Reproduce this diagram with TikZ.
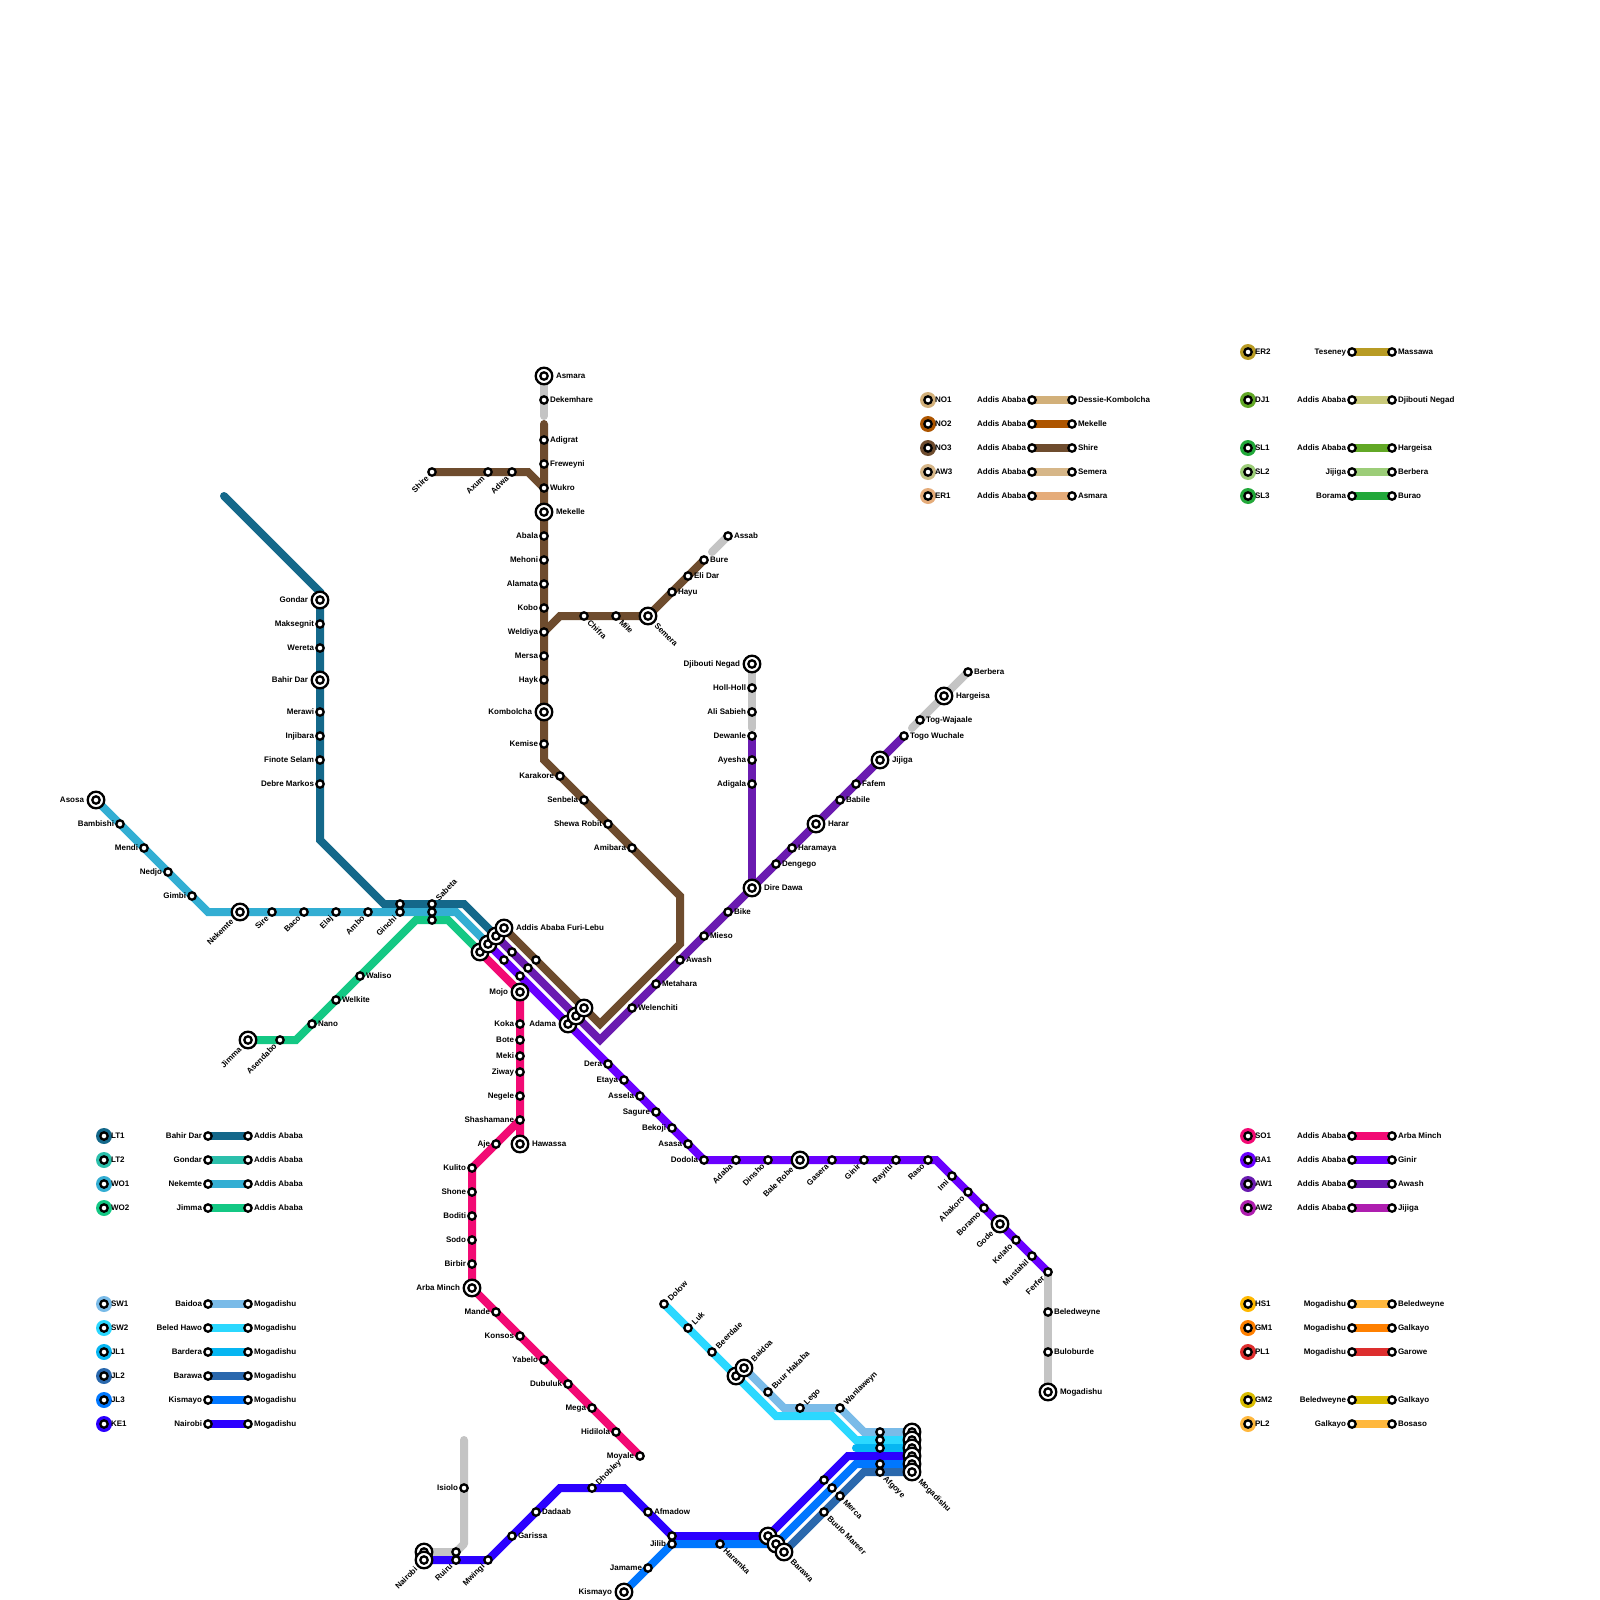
\documentclass[tikz,border=0pt]{standalone}
\usepackage{fontspec}
\setmainfont{Liberation Sans}
\pgfdeclarelayer{st}
\pgfsetlayers{main,st}
\definecolor{cLTa}{HTML}{14688A}\definecolor{cLTb}{HTML}{2BBFAB}\definecolor{cWOa}{HTML}{33AED3}\definecolor{cWOb}{HTML}{14C884}
\definecolor{cSWa}{HTML}{7ABBE8}\definecolor{cSWb}{HTML}{2BD8FF}\definecolor{cJLa}{HTML}{06B6F2}\definecolor{cJLb}{HTML}{2A68AD}
\definecolor{cJLc}{HTML}{0077FF}\definecolor{cKE}{HTML}{2B00FF}\definecolor{cNOa}{HTML}{D2B07A}\definecolor{cNOb}{HTML}{AD5500}
\definecolor{cNOc}{HTML}{6E4C2E}\definecolor{cAWc}{HTML}{D6B688}\definecolor{cERa}{HTML}{E5AC7A}\definecolor{cERb}{HTML}{B89B24}
\definecolor{cDJ}{HTML}{C9C97A}\definecolor{cGra}{HTML}{62A826}\definecolor{cGrb}{HTML}{22A83A}\definecolor{cSLb}{HTML}{9CCD78}
\definecolor{cSO}{HTML}{F20A74}\definecolor{cBA}{HTML}{6A00FF}\definecolor{cAWa}{HTML}{6A1BB0}\definecolor{cAWb}{HTML}{AE1EAF}
\definecolor{cHSd}{HTML}{FFB800}\definecolor{cHS}{HTML}{FFB83E}\definecolor{cGMa}{HTML}{FF8000}\definecolor{cPL}{HTML}{DD2E2E}
\definecolor{cGMb}{HTML}{D9BC00}\definecolor{cGrey}{HTML}{C4C4C4}
\tikzset{
  stn/.style={circle,draw=black,fill=white,line width=2.3pt,minimum size=7.4pt,inner sep=0pt,outer sep=0pt},
  bigo/.style={circle,draw=black,fill=white,line width=2.3pt,minimum size=16.6pt,inner sep=0pt,outer sep=0pt},
  disc/.style={circle,minimum size=16pt,inner sep=0pt,outer sep=0pt},
  lab/.style={font=\bfseries\fontsize{8}{9}\selectfont,inner sep=0pt,outer sep=0pt,text height=6pt,text depth=0pt,text=black},
  lr/.style={lab,anchor=west,xshift=6pt,yshift=0.7pt},
  ll/.style={lab,anchor=east,xshift=-6pt,yshift=0.7pt},
  lc/.style={lab,anchor=west,xshift=7pt,yshift=0.7pt},
  lur/.style={lab,anchor=west,rotate=45,xshift=7pt},
  ldr/.style={lab,anchor=west,rotate=-45,xshift=7pt},
  ldl/.style={lab,anchor=east,rotate=45,xshift=-7pt},
  blr/.style={lab,anchor=west,xshift=12pt,yshift=0.7pt},
  bll/.style={lab,anchor=east,xshift=-12pt,yshift=0.7pt},
  blur/.style={lab,anchor=west,rotate=45,xshift=11.5pt},
  bldr/.style={lab,anchor=west,rotate=-45,xshift=11.5pt},
  bldl/.style={lab,anchor=east,rotate=45,xshift=-11.5pt},
  rt/.style={line width=8pt,line cap=round,line join=miter,miter limit=4},
  lg/.style={line width=8pt,line cap=butt}
}
\newcommand\St[5]{\node[stn] (#1) at (#2,#3) {};\node[#4] (#1t) at (#1.center) {#5};}
\newcommand\Su[3]{\node[stn] (#1) at (#2,#3) {};}
\newcommand\Bg[5]{\node[bigo] (#1o) at (#2,#3) {};\node[stn] (#1) at (#2,#3) {};\node[#4] (#1t) at (#1.center) {#5};}
\newcommand\Bu[3]{\node[bigo] (#1o) at (#2,#3) {};\node[stn] (#1) at (#2,#3) {};}
\newcommand\Leg[9]{%
  \node[disc,fill=#2] (#1d) at (#5,#7) {};
  \begin{pgfonlayer}{st}
  \node[stn] (#1c) at (#5,#7) {};
  \node[stn] (#1l) at (#6,#7) {};
  \node[stn] (#1r) at ([xshift=40pt]#1l.center) {};
  \node[lc] (#1k) at (#1c.center) {#4};
  \node[ll] (#1a) at (#1l.center) {#8};
  \node[lr] (#1b) at (#1r.center) {#9};
  \end{pgfonlayer}
  \draw[lg,#3] (#1l.center) -- (#1r.center);
}
\begin{document}
\begin{tikzpicture}[x=1pt,y=-1pt]
\useasboundingbox (0,0) rectangle (1600,1600);
\fill[white] (0,0) rectangle (1600,1600);
% bend points
\coordinate (ltS) at (224,496);
\coordinate (ltT) at (320,592);
\coordinate (ltA) at (320,840);
\coordinate (ltB) at (384,904);
\coordinate (ltC) at (464,904);
\coordinate (woA) at (208,912);
\coordinate (woB) at (456,912);
\coordinate (wtA) at (296,1040);
\coordinate (wtB) at (416,920);
\coordinate (wtC) at (448,920);
\coordinate (noTop) at (544,424);
\coordinate (noA) at (544,760);
\coordinate (noB) at (680,896);
\coordinate (noC) at (680,944);
\coordinate (noD) at (600,1024);
\coordinate (noE) at (528,472);
\coordinate (noF) at (560,616);
\coordinate (awA) at (600,1040);
\coordinate (baA) at (936,1160);
\coordinate (soA) at (472,1168);
\coordinate (keA) at (848,1456);
\coordinate (keB) at (624,1488);
\coordinate (keC) at (560,1488);
\coordinate (keD) at (488,1560);
\coordinate (swA) at (784,1408);
\coordinate (swB) at (864,1432);
\coordinate (scA) at (776,1416);
\coordinate (scB) at (832,1416);
\coordinate (scC) at (856,1440);
\coordinate (jlS) at (856,1448);
\coordinate (jcA) at (856,1464);
\coordinate (jbA) at (864,1472);
\coordinate (grA) at (464,1440);
\coordinate (grB) at (464,1544);
\coordinate (grC) at (456,1552);
\coordinate (grD) at (712,552);
\coordinate (grE) at (912,728);
\coordinate (grF) at (544,416);
\coordinate (grG) at (752,728);
\begin{pgfonlayer}{st}
% LT1
\Bg{gondar}{320}{600}{bll}{Gondar}
\St{maksegnit}{320}{624}{ll}{Maksegnit}
\St{wereta}{320}{648}{ll}{Wereta}
\Bg{bahirdar}{320}{680}{bll}{Bahir Dar}
\St{merawi}{320}{712}{ll}{Merawi}
\St{injibara}{320}{736}{ll}{Injibara}
\St{finote}{320}{760}{ll}{Finote Selam}
\St{debre}{320}{784}{ll}{Debre Markos}
\Su{ginchiA}{400}{904}
\Su{sabetaB}{432}{912}
\St{sabeta}{432}{904}{lur}{Sabeta}
\Su{sabetaC}{432}{920}
% WO1
\Bg{asosa}{96}{800}{bll}{Asosa}
\St{bambishi}{120}{824}{ll}{Bambishi}
\St{mendi}{144}{848}{ll}{Mendi}
\St{nedjo}{168}{872}{ll}{Nedjo}
\St{gimbi}{192}{896}{ll}{Gimbi}
\Bg{nekemte}{240}{912}{bldl}{Nekemte}
\St{sire}{272}{912}{ldl}{Sire}
\St{baco}{304}{912}{ldl}{Baco}
\St{elaj}{336}{912}{ldl}{Elaj}
\St{ambo}{368}{912}{ldl}{Ambo}
\St{ginchi}{400}{912}{ldl}{Ginchi}
% WO2
\Bg{jimma}{248}{1040}{bldl}{Jimma}
\St{asendabo}{280}{1040}{ldl}{Asendabo}
\St{nano}{312}{1024}{lr}{Nano}
\St{welkite}{336}{1000}{lr}{Welkite}
\St{waliso}{360}{976}{lr}{Waliso}
% Addis
\Bu{adB}{480}{952}
\Bu{adC}{488}{944}
\Bu{adD}{496}{936}
\Bg{addis}{504}{928}{blr}{Addis Ababa Furi-Lebu}
\Su{uA}{512}{952}
\Su{uB}{504}{960}
\Su{uC}{536}{960}
\Su{uD}{528}{968}
\Su{uE}{520}{976}
\Bu{adamaC}{568}{1024}
\Bu{adamaB}{576}{1016}
\Bu{adamaA}{584}{1008}
\node[bll] (adamat) at (adamaC.center) {Adama};
% North
\Bg{asmara}{544}{376}{blr}{Asmara}
\St{dekemhare}{544}{400}{lr}{Dekemhare}
\St{adigrat}{544}{440}{lr}{Adigrat}
\St{freweyni}{544}{464}{lr}{Freweyni}
\St{wukro}{544}{488}{lr}{Wukro}
\Bg{mekelle}{544}{512}{blr}{Mekelle}
\St{abala}{544}{536}{ll}{Abala}
\St{mehoni}{544}{560}{ll}{Mehoni}
\St{alamata}{544}{584}{ll}{Alamata}
\St{kobo}{544}{608}{ll}{Kobo}
\St{weldiya}{544}{632}{ll}{Weldiya}
\St{mersa}{544}{656}{ll}{Mersa}
\St{hayk}{544}{680}{ll}{Hayk}
\Bg{kombolcha}{544}{712}{bll}{Kombolcha}
\St{kemise}{544}{744}{ll}{Kemise}
\St{karakore}{560}{776}{ll}{Karakore}
\St{senbela}{584}{800}{ll}{Senbela}
\St{shewa}{608}{824}{ll}{Shewa Robit}
\St{amibara}{632}{848}{ll}{Amibara}
\St{shire}{432}{472}{ldl}{Shire}
\St{axum}{488}{472}{ldl}{Axum}
\St{adwa}{512}{472}{ldl}{Adwa}
\St{chifra}{584}{616}{ldr}{Chifra}
\St{mile}{616}{616}{ldr}{Mile}
\Bg{semera}{648}{616}{bldr}{Semera}
\St{hayu}{672}{592}{lr}{Hayu}
\St{elidar}{688}{576}{lr}{Eli Dar}
\St{bure}{704}{560}{lr}{Bure}
\St{assab}{728}{536}{lr}{Assab}
% AW
\St{welenchiti}{632}{1008}{lr}{Welenchiti}
\St{metahara}{656}{984}{lr}{Metahara}
\St{awash}{680}{960}{lr}{Awash}
\St{mieso}{704}{936}{lr}{Mieso}
\St{bike}{728}{912}{lr}{Bike}
\Bg{diredawa}{752}{888}{blr}{Dire Dawa}
\St{dengego}{776}{864}{lr}{Dengego}
\St{haramaya}{792}{848}{lr}{Haramaya}
\Bg{harar}{816}{824}{blr}{Harar}
\St{babile}{840}{800}{lr}{Babile}
\St{fafem}{856}{784}{lr}{Fafem}
\Bg{jijiga}{880}{760}{blr}{Jijiga}
\St{togo}{904}{736}{lr}{Togo Wuchale}
\St{togw}{920}{720}{lr}{Tog-Wajaale}
\Bg{hargeisa}{944}{696}{blr}{Hargeisa}
\St{berbera}{968}{672}{lr}{Berbera}
\Bg{djibouti}{752}{664}{bll}{Djibouti Negad}
\St{hollholl}{752}{688}{ll}{Holl-Holl}
\St{alisabieh}{752}{712}{ll}{Ali Sabieh}
\St{dewanle}{752}{736}{ll}{Dewanle}
\St{ayesha}{752}{760}{ll}{Ayesha}
\St{adigala}{752}{784}{ll}{Adigala}
% SO1
\Bg{mojo}{520}{992}{bll}{Mojo}
\St{koka}{520}{1024}{ll}{Koka}
\St{bote}{520}{1040}{ll}{Bote}
\St{meki}{520}{1056}{ll}{Meki}
\St{ziway}{520}{1072}{ll}{Ziway}
\St{negele}{520}{1096}{ll}{Negele}
\St{shashamane}{520}{1120}{ll}{Shashamane}
\Bg{hawassa}{520}{1144}{blr}{Hawassa}
\St{aje}{496}{1144}{ll}{Aje}
\St{kulito}{472}{1168}{ll}{Kulito}
\St{shone}{472}{1192}{ll}{Shone}
\St{boditi}{472}{1216}{ll}{Boditi}
\St{sodo}{472}{1240}{ll}{Sodo}
\St{birbir}{472}{1264}{ll}{Birbir}
\Bg{arbaminch}{472}{1288}{bll}{Arba Minch}
\St{mande}{496}{1312}{ll}{Mande}
\St{konsos}{520}{1336}{ll}{Konsos}
\St{yabelo}{544}{1360}{ll}{Yabelo}
\St{dubuluk}{568}{1384}{ll}{Dubuluk}
\St{mega}{592}{1408}{ll}{Mega}
\St{hidilola}{616}{1432}{ll}{Hidilola}
\St{moyale}{640}{1456}{ll}{Moyale}
% BA1
\St{dera}{608}{1064}{ll}{Dera}
\St{etaya}{624}{1080}{ll}{Etaya}
\St{assela}{640}{1096}{ll}{Assela}
\St{sagure}{656}{1112}{ll}{Sagure}
\St{bekoji}{672}{1128}{ll}{Bekoji}
\St{asasa}{688}{1144}{ll}{Asasa}
\St{dodola}{704}{1160}{ll}{Dodola}
\St{adaba}{736}{1160}{ldl}{Adaba}
\St{dinsho}{768}{1160}{ldl}{Dinsho}
\Bg{balerobe}{800}{1160}{bldl}{Bale Robe}
\St{gasera}{832}{1160}{ldl}{Gasera}
\St{ginir}{864}{1160}{ldl}{Ginir}
\St{rayitu}{896}{1160}{ldl}{Rayitu}
\St{raso}{928}{1160}{ldl}{Raso}
\St{imi}{952}{1176}{ldl}{Imi}
\St{abakoro}{968}{1192}{ldl}{Abakoro}
\St{boramo}{984}{1208}{ldl}{Boramo}
\Bg{gode}{1000}{1224}{bldl}{Gode}
\St{kelafo}{1016}{1240}{ldl}{Kelafo}
\St{mustahil}{1032}{1256}{ldl}{Mustahil}
\St{ferfer}{1048}{1272}{ldl}{Ferfer}
\St{beledweyne}{1048}{1312}{lr}{Beledweyne}
\St{buloburde}{1048}{1352}{lr}{Buloburde}
\Bg{mogB}{1048}{1392}{blr}{Mogadishu}
% South
\St{dolow}{664}{1304}{lur}{Dolow}
\St{luk}{688}{1328}{lur}{Luk}
\St{beerdale}{712}{1352}{lur}{Beerdale}
\Bu{baidoaB}{736}{1376}
\Bg{baidoa}{744}{1368}{blur}{Baidoa}
\St{buur}{768}{1392}{lur}{Buur Hakaba}
\St{lego}{800}{1408}{lur}{Lego}
\St{wanla}{840}{1408}{lur}{Wanlaweyn}
\Su{mA}{880}{1432}
\Su{mB}{880}{1440}
\Su{mC}{880}{1448}
\Su{mD}{880}{1464}
\St{afgoye}{880}{1472}{ldr}{Afgoye}
\Bu{mogA}{912}{1432}
\Bu{mogC}{912}{1440}
\Bu{mogD}{912}{1448}
\Bu{mogE}{912}{1456}
\Bu{mogF}{912}{1464}
\Bg{mogG}{912}{1472}{bldr}{Mogadishu}
\Su{uF}{824}{1480}
\Su{uG}{832}{1488}
\St{merca}{840}{1496}{ldr}{Merca}
\St{buulo}{824}{1512}{ldr}{Buulo Mareer}
\Bu{barA}{768}{1536}
\Bu{barB}{776}{1544}
\Bg{barawa}{784}{1552}{bldr}{Barawa}
\St{haramka}{720}{1544}{ldr}{Haramka}
\Su{jilibA}{672}{1536}
\St{jilib}{672}{1544}{ll}{Jilib}
\St{jamame}{648}{1568}{ll}{Jamame}
\Bg{kismayo}{624}{1592}{bll}{Kismayo}
\St{afmadow}{648}{1512}{lr}{Afmadow}
\St{dhobley}{592}{1488}{lur}{Dhobley}
\St{dadaab}{536}{1512}{lr}{Dadaab}
\St{garissa}{512}{1536}{lr}{Garissa}
\St{mwingi}{488}{1560}{ldl}{Mwingi}
\Su{ruiruA}{456}{1552}
\St{ruiru}{456}{1560}{ldl}{Ruiru}
\St{isiolo}{464}{1488}{ll}{Isiolo}
\Bu{nairobiA}{424}{1552}
\Bg{nairobi}{424}{1560}{bldl}{Nairobi}
\end{pgfonlayer}
% grey sections
\draw[rt,cGrey] (asmara.center) -- (dekemhare.center) -- (grF);
\draw[rt,cGrey] (grD) -- (assab.center);
\draw[rt,cGrey] (djibouti.center) -- (hollholl.center) -- (alisabieh.center) -- (grG);
\draw[rt,cGrey] (grE) -- (togw.center) -- (hargeisa.center) -- (berbera.center);
\draw[rt,cGrey] (ferfer.center) -- (beledweyne.center) -- (buloburde.center) -- (mogB.center);
\draw[rt,cGrey,line join=round] (grA) -- (isiolo.center) -- (grB) -- (grC) -- (ruiruA.center) -- (nairobiA.center);
% routes
\draw[rt,cLTa] (ltS) -- (ltT) -- (gondar.center) -- (debre.center) -- (ltA) -- (ltB) -- (ltC) -- (adD.center);
\draw[rt,cWOa] (asosa.center) -- (woA) -- (woB) -- (adC.center);
\draw[rt,cWOb] (jimma.center) -- (wtA) -- (wtB) -- (wtC) -- (adB.center);
\draw[rt,cNOc] (noTop) -- (noA) -- (noB) -- (noC) -- (noD) -- (addis.center);
\draw[rt,cNOc] (shire.center) -- (noE) -- (wukro.center);
\draw[rt,cNOc] (weldiya.center) -- (noF) -- (semera.center) -- (bure.center);
\draw[rt,cAWa] (adD.center) -- (awA) -- (diredawa.center) -- (togo.center);
\draw[rt,cAWa] (dewanle.center) -- (diredawa.center);
\draw[rt,cBA] (adC.center) -- (dodola.center) -- (baA) -- (ferfer.center);
\draw[rt,cSO] (adB.center) -- (mojo.center) -- (hawassa.center);
\draw[rt,cSO] (shashamane.center) -- (soA) -- (arbaminch.center) -- (moyale.center);
\draw[rt,cSWa] (baidoa.center) -- (swA) -- (wanla.center) -- (swB) -- (mogA.center);
\draw[rt,cSWb] (dolow.center) -- (scA) -- (scB) -- (scC) -- (mogC.center);
\draw[rt,cJLa] (jlS) -- (mogD.center);
\draw[rt,cKE] (nairobi.center) -- (keD) -- (keC) -- (keB) -- (jilibA.center) -- (barA.center) -- (keA) -- (mogE.center);
\draw[rt,cJLc] (kismayo.center) -- (jilib.center) -- (barB.center) -- (jcA) -- (mogF.center);
\draw[rt,cJLb] (barawa.center) -- (jbA) -- (mogG.center);
% legends
\Leg{lLTa}{cLTa}{cLTa}{LT1}{104}{208}{1136}{Bahir Dar}{Addis Ababa}
\Leg{lLTb}{cLTb}{cLTb}{LT2}{104}{208}{1160}{Gondar}{Addis Ababa}
\Leg{lWOa}{cWOa}{cWOa}{WO1}{104}{208}{1184}{Nekemte}{Addis Ababa}
\Leg{lWOb}{cWOb}{cWOb}{WO2}{104}{208}{1208}{Jimma}{Addis Ababa}
\Leg{lSWa}{cSWa}{cSWa}{SW1}{104}{208}{1304}{Baidoa}{Mogadishu}
\Leg{lSWb}{cSWb}{cSWb}{SW2}{104}{208}{1328}{Beled Hawo}{Mogadishu}
\Leg{lJLa}{cJLa}{cJLa}{JL1}{104}{208}{1352}{Bardera}{Mogadishu}
\Leg{lJLb}{cJLb}{cJLb}{JL2}{104}{208}{1376}{Barawa}{Mogadishu}
\Leg{lJLc}{cJLc}{cJLc}{JL3}{104}{208}{1400}{Kismayo}{Mogadishu}
\Leg{lKE}{cKE}{cKE}{KE1}{104}{208}{1424}{Nairobi}{Mogadishu}
\Leg{lNOa}{cNOa}{cNOa}{NO1}{928}{1032}{400}{Addis Ababa}{Dessie-Kombolcha}
\Leg{lNOb}{cNOb}{cNOb}{NO2}{928}{1032}{424}{Addis Ababa}{Mekelle}
\Leg{lNOc}{cNOc}{cNOc}{NO3}{928}{1032}{448}{Addis Ababa}{Shire}
\Leg{lAWc}{cAWc}{cAWc}{AW3}{928}{1032}{472}{Addis Ababa}{Semera}
\Leg{lERa}{cERa}{cERa}{ER1}{928}{1032}{496}{Addis Ababa}{Asmara}
\Leg{lERb}{cERb}{cERb}{ER2}{1248}{1352}{352}{Teseney}{Massawa}
\Leg{lDJ}{cGra}{cDJ}{DJ1}{1248}{1352}{400}{Addis Ababa}{Djibouti Negad}
\Leg{lSLa}{cGrb}{cGra}{SL1}{1248}{1352}{448}{Addis Ababa}{Hargeisa}
\Leg{lSLb}{cSLb}{cSLb}{SL2}{1248}{1352}{472}{Jijiga}{Berbera}
\Leg{lSLc}{cGrb}{cGrb}{SL3}{1248}{1352}{496}{Borama}{Burao}
\Leg{lSO}{cSO}{cSO}{SO1}{1248}{1352}{1136}{Addis Ababa}{Arba Minch}
\Leg{lBA}{cBA}{cBA}{BA1}{1248}{1352}{1160}{Addis Ababa}{Ginir}
\Leg{lAWa}{cAWa}{cAWa}{AW1}{1248}{1352}{1184}{Addis Ababa}{Awash}
\Leg{lAWb}{cAWb}{cAWb}{AW2}{1248}{1352}{1208}{Addis Ababa}{Jijiga}
\Leg{lHS}{cHSd}{cHS}{HS1}{1248}{1352}{1304}{Mogadishu}{Beledweyne}
\Leg{lGMa}{cGMa}{cGMa}{GM1}{1248}{1352}{1328}{Mogadishu}{Galkayo}
\Leg{lPLa}{cPL}{cPL}{PL1}{1248}{1352}{1352}{Mogadishu}{Garowe}
\Leg{lGMb}{cGMb}{cGMb}{GM2}{1248}{1352}{1400}{Beledweyne}{Galkayo}
\Leg{lPLb}{cHS}{cHS}{PL2}{1248}{1352}{1424}{Galkayo}{Bosaso}
\end{tikzpicture}
\end{document}
